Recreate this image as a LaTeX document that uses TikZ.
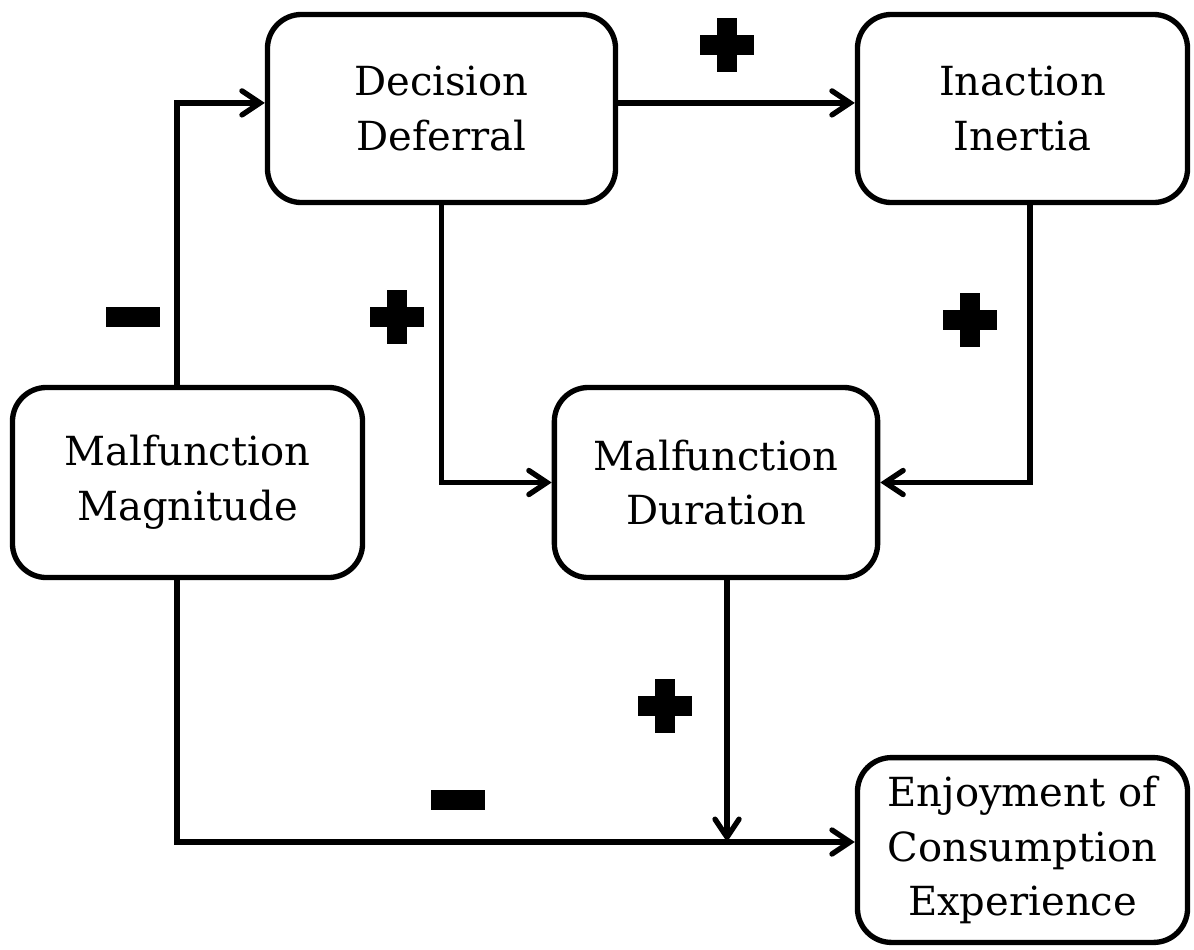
\documentclass[tikz,border=0pt]{standalone}
\usepackage{fontspec}
\setmainfont{DejaVu Serif}
\usetikzlibrary{arrows.meta}

\begin{document}
\begin{tikzpicture}[x=0.025cm, y=-0.025cm,
    box/.style = {draw, line width=3.8pt, rounded corners=0.85cm, fill=white, align=center,
                  font=\fontsize{28.5}{39}\selectfont, inner sep=0pt},
    conn/.style = {line width=3.8pt, -{Straight Barb[length=0.45cm, width=0.6cm, line cap=round]}},
    plus mark/.pic = {
        \fill (-27,-10) rectangle (27,10);
        \fill (-10,-27) rectangle (10,27);
    },
    minus mark/.pic = {
        \fill (-27,-10) rectangle (27,10);
    }]
    \useasboundingbox (0,0) rectangle (1194,949);

    \node[box, minimum width=8.7cm, minimum height=4.7cm] (dec def) at (441.5,108.5) {Decision\\Deferral};
    \node[box, minimum width=8.25cm, minimum height=4.7cm] (inaction) at (1022.5,108.5) {Inaction\\Inertia};
    \node[box, minimum width=8.75cm, minimum height=4.75cm] (magnitude) at (187.5,482.5) {Malfunction\\Magnitude};
    \node[box, minimum width=8.08cm, minimum height=4.75cm] (duration) at (716,482.5) {Malfunction\\Duration};
    \node[box, minimum width=8.25cm, minimum height=4.62cm] (enjoyment) at (1022.5,850) {Enjoyment of\\Consumption\\Experience};

    \coordinate (junction) at (727,842);

    \draw[conn] ([xshift=-0.26cm]magnitude.north) |- ([yshift=0.14cm]dec def.west);
    \draw[conn] ([yshift=0.14cm]dec def.east) -- ([yshift=0.14cm]inaction.west);
    \draw[conn] (dec def.south) |- (duration.west);
    \draw[conn] ([xshift=0.19cm]inaction.south) |- (duration.east);
    \draw[conn] (duration.south -| junction) -- (junction);
    \draw[conn] ([xshift=-0.26cm]magnitude.south) |- ([yshift=0.2cm]enjoyment.west);

    % signs
    \pic at (727,45) {plus mark};
    \pic at (397,317) {plus mark};
    \pic at (970,320) {plus mark};
    \pic at (665,706) {plus mark};
    \pic at (133,317) {minus mark};
    \pic at (458,800) {minus mark};
\end{tikzpicture}
\end{document}
